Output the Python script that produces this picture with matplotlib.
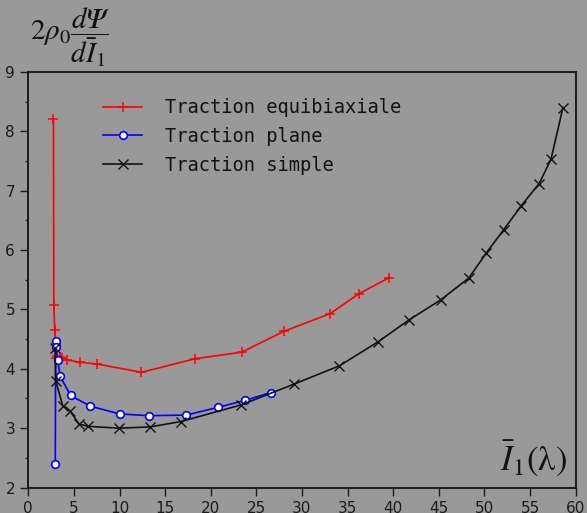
import matplotlib
matplotlib.use("Agg")
import matplotlib.pyplot as plt
from matplotlib.ticker import MultipleLocator

plt.rcParams["mathtext.fontset"] = "stix"

# ---------------------------------------------------------------------------
# Data
# ---------------------------------------------------------------------------
equi_x = [2.76, 2.80, 2.90, 3.05, 3.20, 3.47, 3.72, 4.21, 5.66, 7.56, 12.4,
          18.3, 23.4, 28.0, 33.1, 36.2, 39.5]
equi_y = [8.20, 5.08, 4.65, 4.19, 4.21, 4.20, 4.19, 4.15, 4.11, 4.08, 3.94,
          4.17, 4.28, 4.63, 4.93, 5.26, 5.53]

plane_x = [2.96, 3.00, 3.00, 3.22, 3.50, 4.64, 6.79, 10.0, 13.2, 17.3, 20.8,
           23.8, 26.6]
plane_y = [2.39, 4.47, 4.36, 4.14, 3.87, 3.55, 3.37, 3.24, 3.21, 3.22, 3.35,
           3.47, 3.60]

simple_x = [2.95, 3.00, 3.77, 4.57, 5.55, 6.57, 9.95, 13.3, 16.7, 23.3, 29.1,
            34.1, 38.3, 41.7, 45.2, 48.3, 50.2, 52.1, 54.0, 56.0, 57.3, 58.6]
simple_y = [4.35, 3.80, 3.38, 3.29, 3.07, 3.03, 3.00, 3.02, 3.11, 3.39, 3.74,
            4.05, 4.45, 4.82, 5.16, 5.53, 5.95, 6.34, 6.74, 7.12, 7.53, 8.40]

labels = ["Traction equibiaxiale", "Traction plane", "Traction simple"]

BG = "#999999"


def main():
    fig = plt.figure(figsize=(5.87, 5.13), dpi=100, facecolor=BG)
    ax = fig.add_axes([0.0482, 0.0497, 0.9325, 0.810])
    ax.set_facecolor(BG)

    ax.plot(equi_x, equi_y, color="#ff0000", lw=1.2, marker="+", ms=6.5,
            mew=1.1, label=labels[0])
    ax.plot(plane_x, plane_y, color="#0000ff", lw=1.2, marker="o", ms=5.5,
            mfc="white", mec="#0000ff", mew=1.2, label=labels[1])
    ax.plot(simple_x, simple_y, color="#111111", lw=1.2, marker="x", ms=7,
            mew=1.0, label=labels[2])

    ax.set_xlim(0, 60)
    ax.set_ylim(2, 9)
    ax.xaxis.set_major_locator(MultipleLocator(5))
    ax.yaxis.set_major_locator(MultipleLocator(1))
    ax.yaxis.set_minor_locator(MultipleLocator(0.5))
    ax.tick_params(which="major", direction="out", length=6, width=1,
                   labelsize=11, colors="#1a1a1a")
    ax.tick_params(which="minor", direction="out", length=2.5, width=1,
                   colors="#1a1a1a")
    for sp in ax.spines.values():
        sp.set_linewidth(1.3)
        sp.set_color("#111111")

    leg = ax.legend(loc="upper left", bbox_to_anchor=(0.137, 0.937),
                    frameon=False, borderpad=0, borderaxespad=0,
                    handlelength=2.05, handletextpad=1.25, labelspacing=0.52,
                    prop={"family": "DejaVu Sans Mono", "size": 13.5})
    for t in leg.get_texts():
        t.set_color("#111111")

    # y label in top-left corner, x label inside the axes bottom-right
    fig.text(0.120, 0.926, "$2\\rho_0\\dfrac{d\U0001D6F9}{d\\bar{I}_1}$",
             ha="center", va="center", fontsize=21, color="#111111")
    ax.text(0.984, 0.022, r"$\bar{I}_1(\mathrm{\lambda})$",
            transform=ax.transAxes, ha="right", va="bottom", fontsize=25,
            color="#111111")

    fig.savefig("out.png", dpi=100, facecolor=BG)


if __name__ == "__main__":
    main()
